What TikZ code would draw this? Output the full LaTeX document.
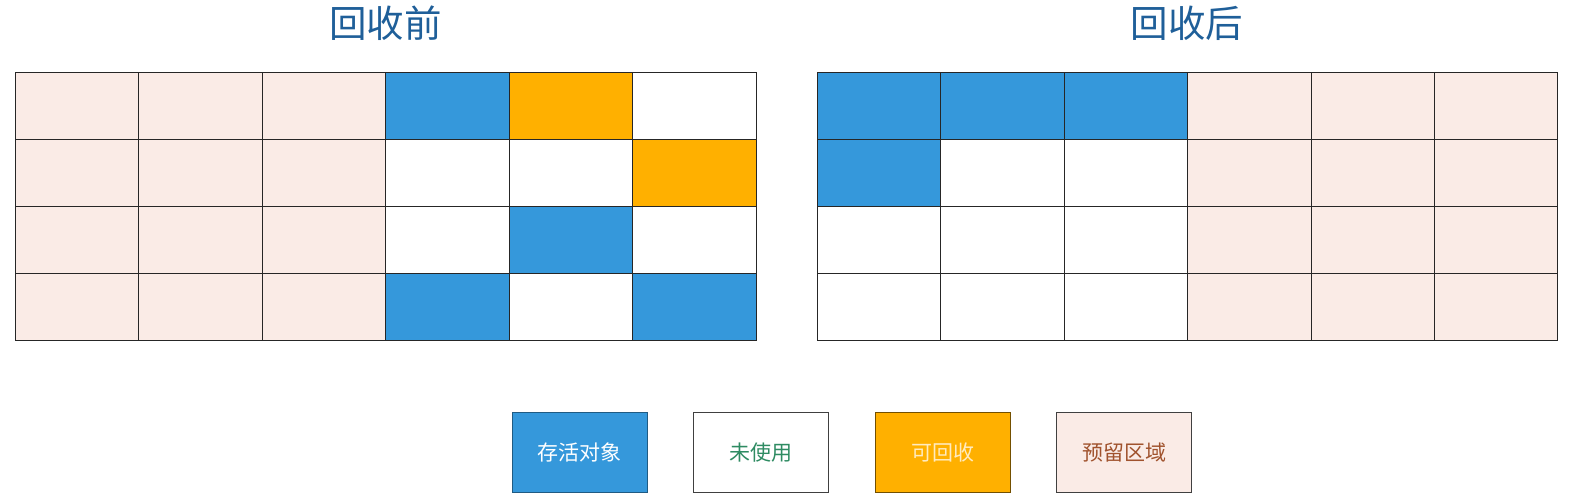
\documentclass[tikz,border=0pt]{standalone}
\usepackage{fontspec}
\newfontfamily\cjk{Noto Sans CJK SC}
\definecolor{cB}{HTML}{3598DB}
\definecolor{cO}{HTML}{FFB000}
\definecolor{cW}{HTML}{FFFFFF}
\definecolor{cP}{HTML}{FAEBE6}
\definecolor{ttl}{HTML}{1F5F99}
\definecolor{tgreen}{HTML}{2E8B62}
\definecolor{tbrown}{HTML}{A0522D}
\definecolor{tcream}{HTML}{FFEBC0}
\begin{document}
\begin{tikzpicture}[x=1pt,y=-1pt,
  cell/.style={draw=black!85,line width=0.9pt,anchor=north west,inner sep=0pt,minimum width=123.45pt,minimum height=66.93pt},
  title/.style={font=\cjk\fontsize{37.5}{42}\selectfont,text=ttl},
  legend/.style={draw=black!75,line width=0.9pt,inner sep=0pt,minimum width=135pt,minimum height=80pt,font=\cjk\fontsize{21}{24}\selectfont}]
\useasboundingbox[fill=white] (0,0) rectangle (1574,500);
\node[title] (t1) at (385.5,23) {回收前};
\node[title] (t2) at (1187,23) {回收后};
\foreach \r/\row in {0/{P,P,P,B,O,W},1/{P,P,P,W,W,O},2/{P,P,P,W,B,W},3/{P,P,P,B,W,B}}{
  \foreach \c [count=\i from 0] in \row {
    \node[cell,fill=c\c] (L\r\i) at (15+123.45*\i,72.3+66.93*\r) {};
  }
}
\foreach \r/\row in {0/{B,B,B,P,P,P},1/{B,W,W,P,P,P},2/{W,W,W,P,P,P},3/{W,W,W,P,P,P}}{
  \foreach \c [count=\i from 0] in \row {
    \node[cell,fill=c\c] (R\r\i) at (816.7+123.45*\i,72.3+66.93*\r) {};
  }
}
\node[legend,fill=cB,text=white,draw=cB!60!black] (k1) at (579.5,452.5) {存活对象};
\node[legend,fill=cW,text=tgreen] (k2) at (761,452.5) {未使用};
\node[legend,fill=cO,text=tcream,draw=cO!45!black] (k3) at (942.5,452.5) {可回收};
\node[legend,fill=cP,text=tbrown] (k4) at (1124,452.5) {预留区域};
\end{tikzpicture}
\end{document}
